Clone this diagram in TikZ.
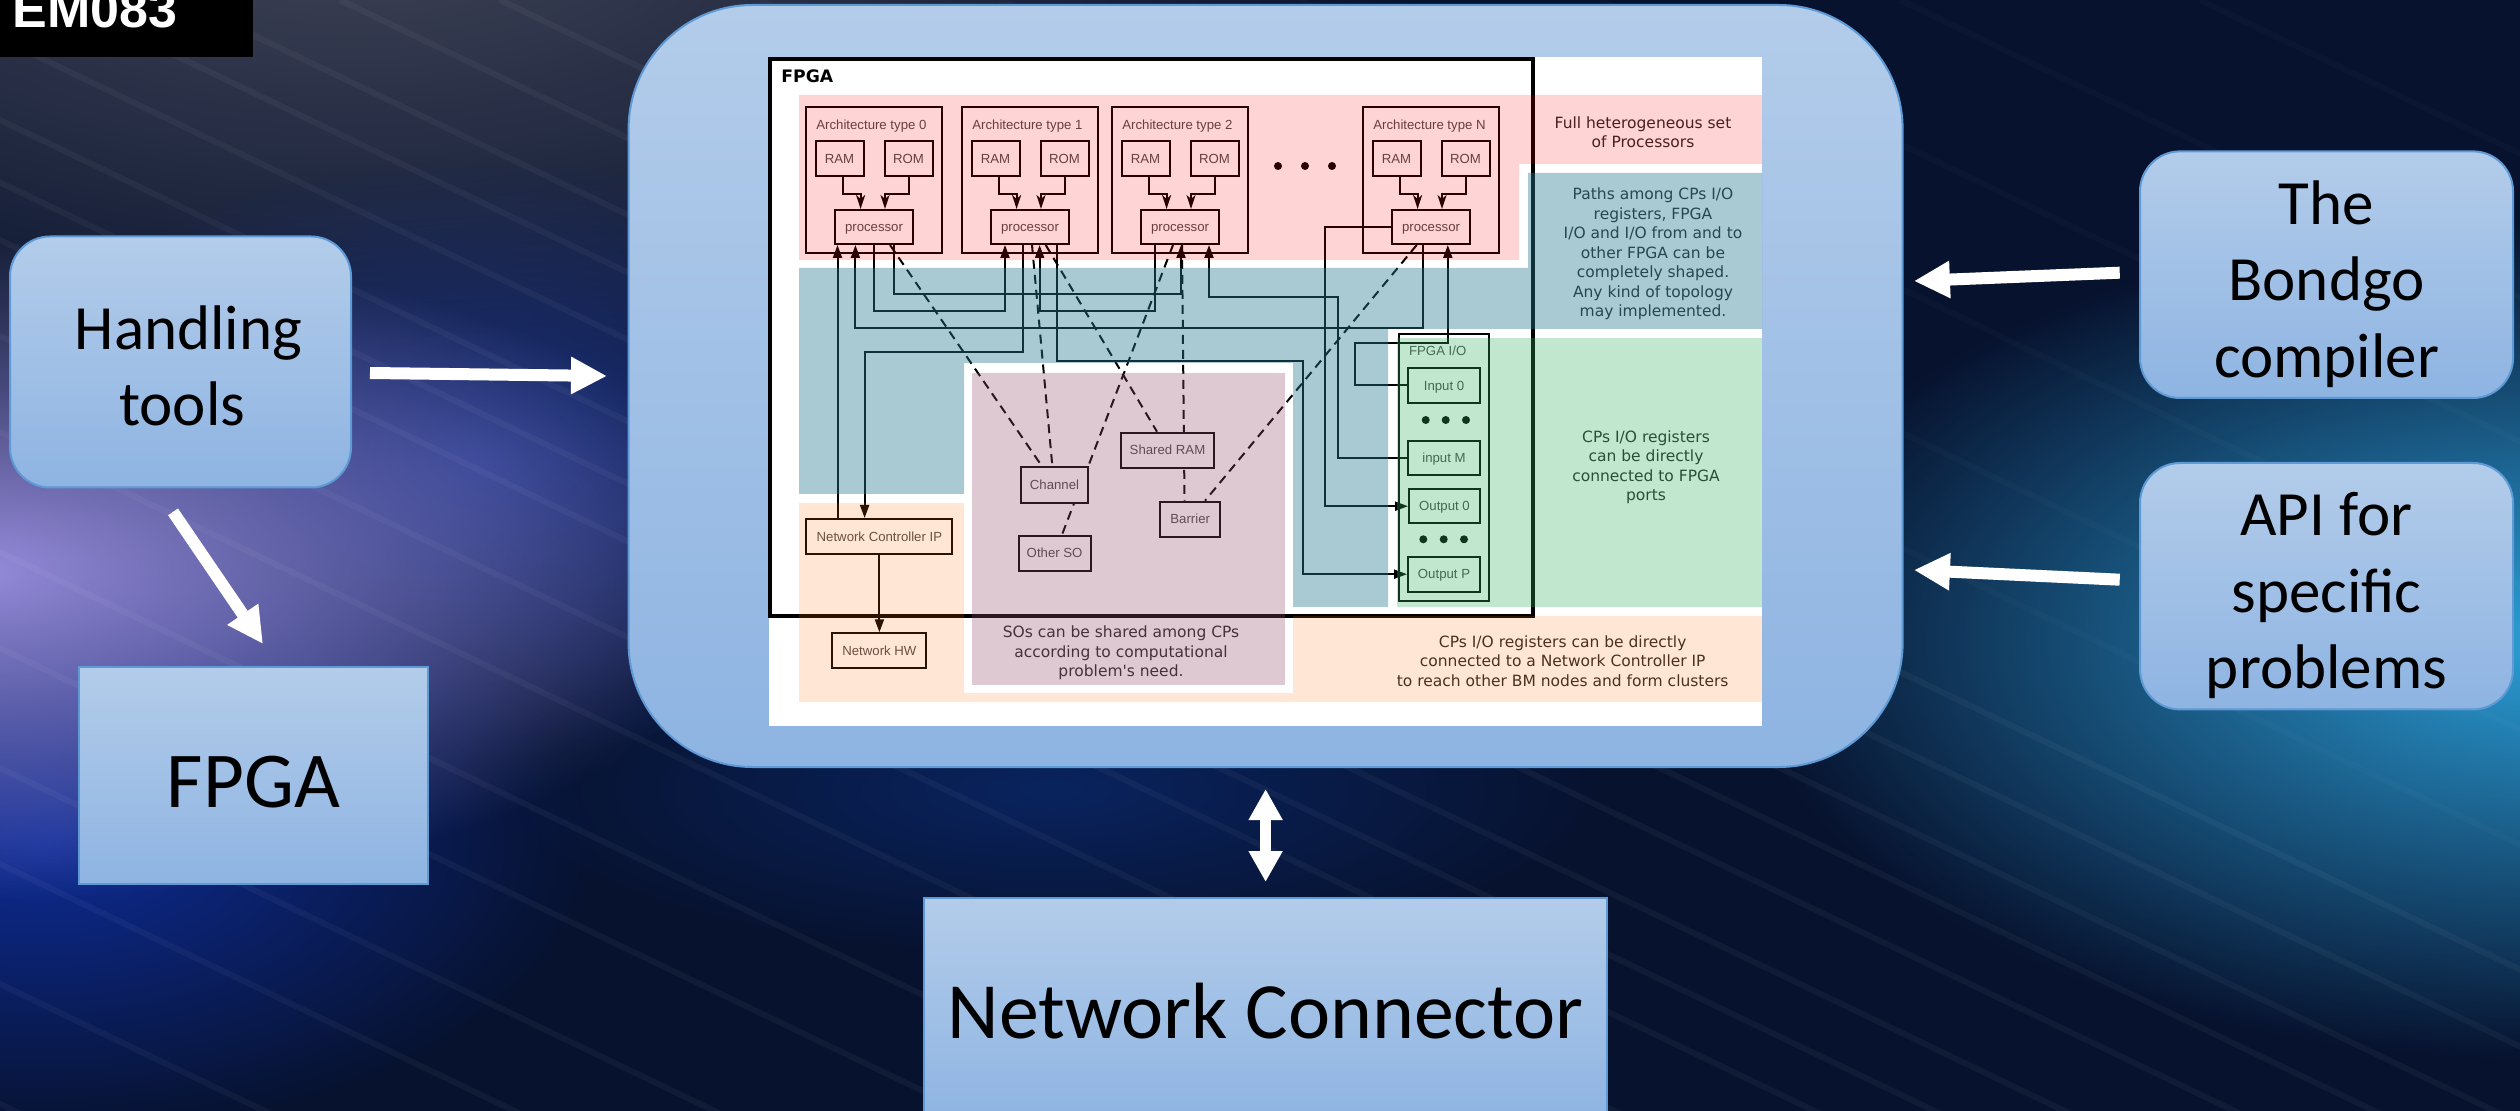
\documentclass[tikz,border=0pt]{standalone}
\usepackage{fontspec}
\setmainfont{Carlito}
\newfontfamily\dejavu{DejaVu Sans}
\newfontfamily\arialike{Liberation Sans}
\usetikzlibrary{arrows.meta,fadings}

\definecolor{softtop}{HTML}{B3CCEA}
\definecolor{softbottom}{HTML}{8EB4E2}
\definecolor{softedge}{HTML}{5E9AD6}
\definecolor{zonepink}{rgb}{1,0,0}
\definecolor{zoneblue}{rgb}{0.157,0.47,0.568}
\definecolor{zonegreen}{rgb}{0.2,0.69,0.37}
\definecolor{zoneorange}{rgb}{1,0.42,0.03}
\definecolor{zonepurple}{rgb}{0.577,0.29,0.42}

\tikzfading[name=glow, inner color=transparent!0, outer color=transparent!100]
\pgfdeclarelayer{base}
\pgfdeclarelayer{under}
\pgfsetlayers{base,under,main}

\tikzset{
  softtext/.style={align=center, inner sep=0pt, text=black, font=\fontsize{31.5}{38.2}\selectfont},
  softbox/.style={softtext, draw=softedge, line width=1pt, top color=softtop, bottom color=softbottom},
  bigarrow/.style={white, line width=6pt, -{Triangle[length=18pt,width=17.5pt]}},
  block/.style={draw=black, line width=1pt, inner sep=0pt, text height=4.8pt, text depth=0pt, text=black!70, font=\arialike\fontsize{6.6}{8}\selectfont},
  soblock/.style={block, fill=white},
  boxlabel/.style={anchor=west, inner sep=0pt, text height=4.8pt, text depth=0pt, text=black!70, font=\arialike\fontsize{6.6}{8}\selectfont},
  note/.style={align=center, inner sep=0pt, text=black!85, font=\dejavu\fontsize{7.75}{9.75}\selectfont},
  bus/.style={black, line width=1pt},
  busarrow/.style={bus, -{Triangle[length=6.5pt,width=4.5pt]}},
  inarrow/.style={bus, -{Stealth[length=7pt,width=4.5pt,inset=2pt]}},
  sharedlink/.style={bus, dash pattern=on 4.5pt off 3pt},
  zonefill/.style={fill opacity=#1, draw=none}
}

\begin{document}
\begin{tikzpicture}[x=0.5pt,y=0.5pt,yscale=-1]
\useasboundingbox (0,0) rectangle (2520,1111);

% Background
\begin{pgfonlayer}{base}
\clip (0,0) rectangle (2520,1111);
\fill[fill={rgb,255:red,7;green,18;blue,46}] (0,0) rectangle (2520,1111);
\fill[fill={rgb,255:red,66;green,70;blue,88}, path fading=glow] (350,-100) ellipse [x radius=1100, y radius=520];
\fill[fill={rgb,255:red,30;green,52;blue,130}, path fading=glow] (480,460) ellipse [x radius=500, y radius=300];
\fill[fill={rgb,255:red,14;green,44;blue,150}, path fading=glow] (40,840) ellipse [x radius=560, y radius=300];
\fill[fill={rgb,255:red,150;green,140;blue,220}, path fading=glow] (-30,570) ellipse [x radius=800, y radius=330];
\fill[fill={rgb,255:red,10;green,36;blue,95}, path fading=glow] (1050,790) ellipse [x radius=560, y radius=170];
\fill[fill={rgb,255:red,44;green,160;blue,216}, path fading=glow] (2560,640) ellipse [x radius=820, y radius=420];
% Streaks
\foreach \s in {-2300,-2050,-1800,-1600,-1350,-1150,-900,-700,-500,-380,-250,-80,60,180,340,500}
  \draw[white, opacity=0.04, line width=3pt] (\s,0) -- ({\s+2700},1296);
\foreach \s in {760,1000,1300,1600,1900,2200}
  \draw[white, opacity=0.02, line width=3pt] (\s,0) -- ({\s+2700},1296);

% Panel and its sheet
\node (panel) [softbox, rounded corners=62pt, minimum width=637pt, minimum height=381pt] at (1265.6,386) {};
\fill[white] (769,57) rectangle (1762,726);
\end{pgfonlayer}

% Processor columns
\foreach \a/\x in {0/806,1/962,2/1112,N/1363} {
  \node (arch\a) [block, minimum width=68pt, minimum height=73pt] at (\x+68,180) {};
  \node (title\a) [boxlabel] at (\x+10,125) {Architecture type \a};
  \node (ram\a) [block, minimum width=24pt, minimum height=17.3pt] at (\x+33.5,158.4) {RAM};
  \node (rom\a) [block, minimum width=24pt, minimum height=17.3pt] at (\x+102.5,158.4) {ROM};
  \node (proc\a) [block, minimum width=39.3pt, minimum height=17pt] at (\x+68,227) {processor};
  \draw[inarrow] ([xshift=1.75pt]ram\a.south) -- ++(0,17) -| ([xshift=-6.7pt]proc\a.north);
  \draw[inarrow] (rom\a.south) -- ++(0,17) -| ([xshift=5.5pt]proc\a.north);
}
\foreach \x in {1278,1305,1332} \fill (\x,166) circle (4);

% Shared objects
\node (channel) [soblock, minimum width=33.5pt, minimum height=18pt] at (1054.5,484.7) {Channel};
\node (sharedram) [soblock, minimum width=46.5pt, minimum height=17.5pt] at (1167.5,450.2) {Shared RAM};
\node (barrier) [soblock, minimum width=30pt, minimum height=17.5pt] at (1190.2,519.2) {Barrier};
\node (otherso) [soblock, minimum width=36pt, minimum height=17.5pt] at (1054.6,553.2) {Other SO};

% Network side
\node (netctrl) [block, minimum width=73pt, minimum height=17.5pt] at (879.4,536.5) {Network Controller IP};
\node (nethw) [block, minimum width=47pt, minimum height=17.5pt] at (879.4,650.8) {Network HW};
\draw[busarrow] (netctrl.south) -- (nethw.north);

% FPGA I/O
\node (iobox) [block, minimum width=45pt, minimum height=133.5pt] at (1444,467.5) {};
\node (iotitle) [boxlabel] at (1408.7,351) {FPGA I/O};
\node (in0) [block, minimum width=36pt, minimum height=17.2pt] at (1444,385.5) {Input 0};
\node (inM) [block, minimum width=36pt, minimum height=17.2pt] at (1444,457.8) {input M};
\node (out0) [block, minimum width=35.5pt, minimum height=17.2pt] at (1444.5,506.2) {Output 0};
\node (outP) [block, minimum width=36pt, minimum height=17.5pt] at (1444,574.2) {Output P};
\foreach \x in {1425.7,1445.7,1466} \fill (\x,420) circle (4);
\foreach \x in {1423.3,1443.7,1464} \fill (\x,539.3) circle (4);

% Paths
\draw[busarrow] (874,0 |- proc0.south) |- (1005,311) -- (1005,0 |- proc1.south);
\draw[busarrow] (893.7,0 |- proc0.south) |- (1181,294) -- (1181,0 |- proc2.south);
\draw[busarrow] (1423,0 |- procN.south) |- (855.4,328) -- (855.4,0 |- proc0.south);
\draw[busarrow] (837.5,0 |- netctrl.north) -- (837.5,0 |- proc0.south);
\draw[busarrow] (1023,0 |- proc1.south) |- (864.6,351.7) -- (864.6,0 |- netctrl.north);
\draw[busarrow] (1057.4,0 |- proc1.south) |- (1303,360.7) |- (outP.west);
\draw[busarrow] (1155.4,0 |- proc2.south) |- (1039.6,311) -- (1039.6,0 |- proc1.south);
\draw[busarrow] (inM.west) -| (1337.5,296.7) -| (1209,0 |- proc2.south);
\draw[busarrow] (procN.west) -| (1325,0 |- out0.west) -- (out0.west);
\draw[busarrow] (in0.west) -| (1355,343) -| (1447.8,0 |- procN.south);

% Dashed links
\begin{pgfonlayer}{under}
\draw[sharedlink] (890,0 |- proc0.south) -- (1041.6,0 |- channel.north);
\draw[sharedlink] (1032,0 |- proc1.south) -- (1052.3,0 |- channel.north);
\draw[sharedlink] (1045.7,0 |- proc1.south) -- (1157,0 |- sharedram.north);
\draw[sharedlink] (1173,0 |- proc2.south) -- (1062,0 |- otherso.north);
\draw[sharedlink] (1182,0 |- proc2.south) -- (1184.5,0 |- barrier.north);
\draw[sharedlink] (1416.7,0 |- procN.south) -- (1205,0 |- barrier.north);
\end{pgfonlayer}

% Text Node
\node (fpgatitle) [anchor=west, inner sep=0pt, font=\dejavu\bfseries\fontsize{8.6}{10}\selectfont] at (781,76) {FPGA};
\node (notepink) [note] at (1643,132) {Full heterogeneous set\\of Processors};
\node (noteblue) [note] at (1653,254) {Paths among CPs I/O\\registers, FPGA\\I/O and I/O from and to\\other FPGA can be\\completely shaped.\\Any kind of topology\\may implemented.};
\node (notegreen) [note] at (1646,467) {CPs I/O registers\\can be directly\\connected to FPGA\\ports};
\node (notepurple) [note] at (1121,653) {SOs can be shared among CPs\\according to computational\\problem's need.};
\node (noteorange) [note] at (1562.7,661) {CPs I/O registers can be directly\\connected to a Network Controller IP\\to reach other BM nodes and form clusters};

% FPGA frame
\draw[black, line width=1.7pt] (770,59) rectangle (1533,616);

% Zones
\fill[zonepink, zonefill=0.17] (799,95) -- (1762,95) -- (1762,164) -- (1519,164) -- (1519,260) -- (799,260) -- cycle;
\fill[zoneblue, zonefill=0.4] (799,268) -- (1528,268) -- (1528,173) -- (1762,173) -- (1762,329) -- (1388,329) -- (1388,607) -- (1293,607) -- (1293,363) -- (964,363) -- (964,494) -- (799,494) -- cycle;
\fill[zonegreen, zonefill=0.3] (1397,338) rectangle (1762,607);
\fill[zoneorange, zonefill=0.17] (799,503) -- (964,503) -- (964,693) -- (1293,693) -- (1293,616) -- (1762,616) -- (1762,702) -- (799,702) -- cycle;
\fill[zonepurple, zonefill=0.3] (972,373) rectangle (1284.5,685);

% Slide boxes
\node (emtag) [fill=black, minimum width=126.5pt, minimum height=28.4pt, inner sep=0pt] at (126.5,28.4) {};
\node (emtext) [anchor=base west, inner sep=0pt, text=white, font=\arialike\bfseries\fontsize{26}{30}\selectfont] at (12,28) {EM083};
\node (tools) [softbox, rounded corners=20pt, minimum width=170.5pt, minimum height=125.5pt] at (180.5,362) {};
\node (toolstext) [softtext] at (188.5,366) {Handling\\tools\hspace*{6.4pt}};
\node (fpga) [softbox, minimum width=174.5pt, minimum height=108.5pt, text height=32pt, font=\fontsize{39.6}{44}\selectfont] at (253.5,775.5) {FPGA};
\node (network) [softbox, minimum width=341.3pt, minimum height=113pt, font=\fontsize{39.9}{44}\selectfont] at (1265.6,1011) {Network Connector};
\node (bondgo) [softbox, rounded corners=20pt, minimum width=186.5pt, minimum height=123.3pt] at (2326.5,274.7) {\rule{0pt}{31pt}The\\Bondgo\\compiler};
\node (api) [softbox, rounded corners=20pt, minimum width=186.5pt, minimum height=123.2pt] at (2326.5,586.2) {\rule{0pt}{31pt}API for\\specific\\problems};

% Arrows
\draw[bigarrow] ([xshift=9pt,yshift=5.5pt]tools.east) -- ([xshift=-10.3pt,yshift=-5pt]panel.west);
\draw[bigarrow] ([xshift=-3.75pt,yshift=11.7pt]tools.south) -- ([xshift=4.75pt,yshift=-11pt]fpga.north);
\draw[bigarrow] ([xshift=-9.65pt,yshift=-1pt]bondgo.west) -- ([xshift=5.15pt,yshift=-52.5pt]panel.east);
\draw[bigarrow] ([xshift=-9.65pt,yshift=-3.25pt]api.west) -- ([xshift=5.15pt,yshift=92pt]panel.east);
\draw[white, line width=5.25pt, {Triangle[length=15.5pt,width=16pt]}-{Triangle[length=15.5pt,width=16pt]}] ([yshift=10.5pt]panel.south) -- ([yshift=-7.5pt]network.north);
\end{tikzpicture}
\end{document}
